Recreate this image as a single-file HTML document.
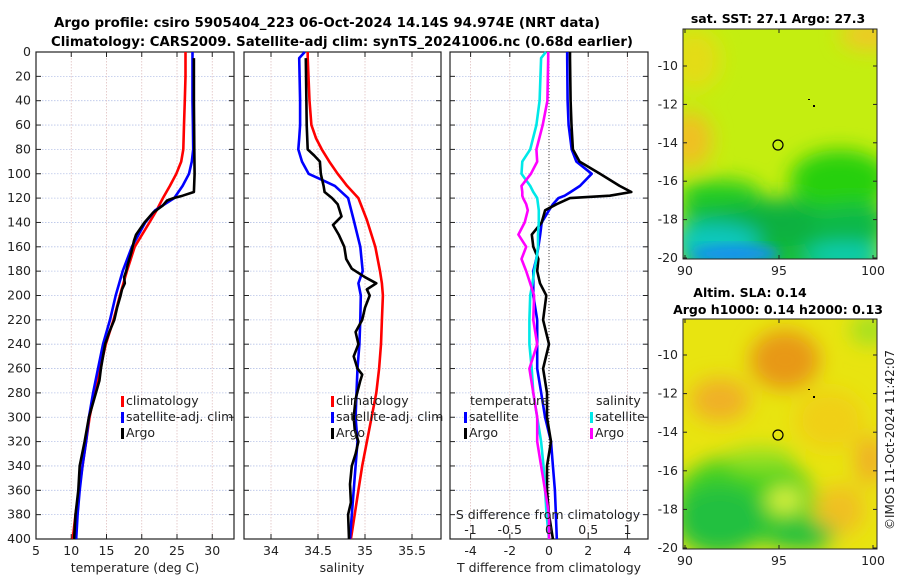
<!DOCTYPE html>
<html><head><meta charset="utf-8">
<style>
html,body{margin:0;padding:0;background:#fff;}
svg{display:block;font-family:"DejaVu Sans","Liberation Sans",sans-serif;}
</style></head>
<body>
<svg id="fig" width="900" height="580" viewBox="0 0 900 580" xmlns="http://www.w3.org/2000/svg">
<defs>
<filter id="blur6" x="-20%" y="-20%" width="140%" height="140%"><feGaussianBlur stdDeviation="6"/></filter>
<filter id="blur10" x="-30%" y="-30%" width="160%" height="160%"><feGaussianBlur stdDeviation="10"/></filter>
<clipPath id="clipSst"><rect x="683" y="29" width="194" height="230"/></clipPath>
<clipPath id="clipSla"><rect x="683" y="319" width="194" height="230"/></clipPath>
</defs>
<text x="327" y="27" text-anchor="middle" font-size="13" font-weight="bold" textLength="546" lengthAdjust="spacingAndGlyphs">Argo profile: csiro 5905404_223 06-Oct-2024 14.14S 94.974E (NRT data)</text>
<text x="342" y="46" text-anchor="middle" font-size="13" font-weight="bold" textLength="582" lengthAdjust="spacingAndGlyphs">Climatology: CARS2009. Satellite-adj clim: synTS_20241006.nc (0.68d earlier)</text>

<!-- SST map -->
<g clip-path="url(#clipSst)">
  <rect x="683" y="29" width="194" height="230" fill="#c4ee10"/>
  <g filter="url(#blur10)">
    <ellipse cx="690" cy="140" rx="22" ry="28" fill="#f0c020"/>
    <ellipse cx="695" cy="60" rx="25" ry="30" fill="#e4dc18"/>
    <ellipse cx="870" cy="35" rx="30" ry="15" fill="#f0c828"/>
    <rect x="683" y="198" width="194" height="80" fill="#18c038"/>
    <ellipse cx="840" cy="180" rx="50" ry="30" fill="#28d010"/>
    <ellipse cx="720" cy="192" rx="40" ry="12" fill="#20cc20"/>
    <ellipse cx="770" cy="225" rx="70" ry="22" fill="#10b040"/>
    <ellipse cx="850" cy="225" rx="40" ry="20" fill="#10b848"/>
    <ellipse cx="715" cy="242" rx="45" ry="18" fill="#10c8c0"/>
    <ellipse cx="845" cy="255" rx="40" ry="10" fill="#10d0c0"/>
  </g>
  <ellipse cx="735" cy="254" rx="45" ry="9" fill="#1890f0" filter="url(#blur6)"/>
</g>
<rect x="683" y="29" width="194" height="230" fill="none" stroke="#222" stroke-width="1"/>
<text x="778" y="23" text-anchor="middle" font-size="12.5" font-weight="bold">sat. SST: 27.1 Argo: 27.3</text>
<circle cx="778" cy="145" r="5" fill="none" stroke="#000" stroke-width="1.2"/>
<rect x="808" y="99" width="2" height="1" fill="#000"/><rect x="813" y="105" width="2" height="2" fill="#000"/>

<!-- SLA map -->
<g clip-path="url(#clipSla)">
  <rect x="683" y="319" width="194" height="230" fill="#e8e410"/>
  <g filter="url(#blur10)">
    <ellipse cx="785" cy="360" rx="35" ry="30" fill="#e89818"/>
    <ellipse cx="720" cy="400" rx="30" ry="22" fill="#f0b028"/>
    <ellipse cx="830" cy="420" rx="35" ry="30" fill="#f0d018"/>
    <ellipse cx="870" cy="460" rx="15" ry="25" fill="#f0b028"/>
    <ellipse cx="840" cy="510" rx="25" ry="25" fill="#f0c020"/>
    <ellipse cx="870" cy="330" rx="20" ry="15" fill="#a0e020"/>
    <ellipse cx="745" cy="500" rx="70" ry="45" fill="#40d020"/>
    <ellipse cx="720" cy="520" rx="45" ry="35" fill="#20c040"/>
    <ellipse cx="800" cy="535" rx="35" ry="15" fill="#20c040"/>
    <ellipse cx="785" cy="500" rx="18" ry="14" fill="#d8f040"/>
    <ellipse cx="760" cy="460" rx="35" ry="12" fill="#90e020"/>
  </g>
</g>
<rect x="683" y="319" width="194" height="230" fill="none" stroke="#222" stroke-width="1"/>
<text x="750" y="297" text-anchor="middle" font-size="12.5" font-weight="bold">Altim. SLA: 0.14</text>
<text x="778" y="314" text-anchor="middle" font-size="12.5" font-weight="bold">Argo h1000: 0.14 h2000: 0.13</text>
<circle cx="778" cy="435" r="5" fill="none" stroke="#000" stroke-width="1.2"/>
<rect x="808" y="389" width="2" height="1" fill="#000"/><rect x="813" y="396" width="2" height="2" fill="#000"/>
<text transform="translate(894,440) rotate(-90)" text-anchor="middle" font-size="12" fill="#222">©IMOS 11-Oct-2024 11:42:07</text>
<g id="plots"></g>
</svg>
<script>
// ---- data (depth in m) ----
const depthsT = [0,20,40,60,80,90,100,110,120,130,140,160,180,200,220,240,260,280,300,320,340,360,380,400];
const tempClim = [26.2,26.2,26.1,26.0,25.9,25.6,24.9,24.0,23.0,22.1,21.1,19.0,17.9,16.9,16.0,14.9,14.1,13.3,12.6,12.1,11.6,11.1,10.6,10.2];
const tempSat  = [27.2,27.2,27.2,27.25,27.3,27.1,26.7,25.8,24.6,21.9,20.5,18.6,17.3,16.3,15.5,14.5,13.8,13.1,12.5,12.1,11.6,11.2,10.9,10.7];
const depthsArgoT = [5,40,80,100,115,118,120,122,126,132,140,150,155,165,175,180,185,190,195,200,210,220,230,240,250,260,270,280,290,300,320,340,350,360,370,380,390,400];
const tempArgo = [27.4,27.4,27.45,27.5,27.4,25.8,24.5,23.6,23.0,21.6,20.4,19.2,18.9,18.5,18.0,17.8,17.5,17.6,17.2,17.0,16.5,16.1,15.4,14.8,14.5,14.2,14.0,13.5,13.0,12.5,11.9,11.2,11.1,11.0,10.8,10.6,10.5,10.4];

const depthsS = [0,5,40,60,71,80,90,100,105,110,120,138,160,180,190,200,220,240,260,280,300,320,340,360,380,400];
const salClim = [34.39,34.39,34.41,34.43,34.48,34.54,34.62,34.71,34.76,34.81,34.93,35.02,35.11,35.16,35.18,35.19,35.18,35.17,35.15,35.12,35.07,35.02,34.97,34.93,34.89,34.85];
const salSat  = [34.36,34.30,34.31,34.31,34.30,34.29,34.33,34.40,34.54,34.68,34.82,34.88,34.95,34.975,34.93,34.955,34.95,34.94,34.92,34.91,34.90,34.92,34.90,34.88,34.86,34.84];
const depthsArgoS = [5,60,80,85,90,100,110,115,120,125,130,135,142,150,160,170,178,185,190,195,200,210,220,230,240,250,260,265,270,285,300,310,320,330,340,355,370,380,400];
const salArgo = [34.37,34.38,34.39,34.46,34.52,34.53,34.56,34.57,34.65,34.71,34.73,34.75,34.66,34.72,34.78,34.80,34.86,35.0,35.12,35.02,35.05,35.0,34.97,34.90,34.93,34.88,34.92,34.97,34.95,34.90,34.88,34.89,34.93,34.90,34.86,34.84,34.85,34.82,34.83];

const depthsD = [0,5,40,60,80,90,100,110,115,118,120,125,130,140,150,160,170,180,190,200,220,240,260,280,300,320,340,360,380,400];
const tDiffSat  = [0.93,0.93,0.95,1.0,1.16,1.4,2.18,1.58,1.1,0.8,0.48,0.2,0.0,-0.37,-0.45,-0.54,-0.65,-0.8,-0.8,-0.8,-0.6,-0.6,-0.6,-0.4,-0.2,0.1,0.2,0.3,0.35,0.4];
const tDiffArgo = [1.07,1.07,1.1,1.15,1.22,1.56,2.6,3.6,4.2,3.1,1.07,0.39,-0.2,-0.37,-0.88,-0.8,-0.54,-0.6,-0.46,-0.14,-0.3,0.0,-0.3,-0.1,-0.1,0.1,-0.1,-0.1,0.0,0.2];
const sDiffSat  = [-0.04,-0.1,-0.12,-0.16,-0.24,-0.34,-0.35,-0.24,-0.2,-0.17,-0.15,-0.14,-0.13,-0.13,-0.14,-0.14,-0.16,-0.19,-0.21,-0.24,-0.25,-0.25,-0.22,-0.2,-0.15,-0.1,-0.07,-0.05,-0.03,0.0];
const sDiffArgo = [-0.01,-0.01,-0.02,-0.08,-0.16,-0.15,-0.23,-0.35,-0.34,-0.34,-0.33,-0.29,-0.27,-0.31,-0.39,-0.29,-0.35,-0.29,-0.24,-0.19,-0.2,-0.15,-0.25,-0.2,-0.15,-0.15,-0.1,-0.05,0.0,0.0];

const depthTicks = [0,20,40,60,80,100,120,140,160,180,200,220,240,260,280,300,320,340,360,380,400];
const tempTicks = [5,10,15,20,25,30];
const salTicks = [34,34.5,35,35.5];
const salTickLabels = ['34','34.5','35','35.5'];
const tDiffTicks = [-4,-2,0,2,4];
const sDiffTicks = [-1,-0.5,0,0.5,1];
const sDiffTickLabels = ['-1','-0.5','0','0.5','1'];

// ---- scales ----
const Y0 = 52, Y1 = 539;
const yD = d => Y0 + d*(Y1-Y0)/400;
const xT = t => 36 + (t-5)*7.05;
const xS = s => 365 + (s-35)*94;
const xTD = v => 549 + v*19.6;
const xSD = v => 549 + v*78.5;

const NS = 'http://www.w3.org/2000/svg';
const root = document.getElementById('plots');
function mk(tag, attrs, parent){
  const e = document.createElementNS(NS, tag);
  for (const k in attrs) e.setAttribute(k, attrs[k]);
  (parent||root).appendChild(e);
  return e;
}
function line(xs, ds, fx, color, name, w){
  const pts = xs.map((v,i)=> fx(v).toFixed(1)+','+yD(ds[i]).toFixed(1)).join(' ');
  const p = mk('polyline', {points:pts, fill:'none', stroke:color, 'stroke-width':w||2.6, 'stroke-linejoin':'round'});
  
  
  return p;
}
function panel(x0, x1, xticks, fx, name){
  const g = mk('g', {});
  
  
  depthTicks.forEach(d=>{
    mk('line',{x1:x0,x2:x1,y1:yD(d),y2:yD(d),stroke:'#b8c4e8','stroke-width':0.8,'stroke-dasharray':'1.5,1.5'},g);
    mk('line',{x1:x0,x2:x0+5,y1:yD(d),y2:yD(d),stroke:'#222','stroke-width':1},g);
    mk('line',{x1:x1-5,x2:x1,y1:yD(d),y2:yD(d),stroke:'#222','stroke-width':1},g);
  });
  xticks.forEach(t=>{
    const x = fx(t);
    mk('line',{x1:x,x2:x,y1:Y0,y2:Y1,stroke:'#e0c0c0','stroke-width':0.8,'stroke-dasharray':'1.5,1.5'},g);
    mk('line',{x1:x,x2:x,y1:Y0,y2:Y0+5,stroke:'#222','stroke-width':1},g);
    mk('line',{x1:x,x2:x,y1:Y1-5,y2:Y1,stroke:'#222','stroke-width':1},g);
  });
  mk('rect',{x:x0,y:Y0,width:x1-x0,height:Y1-Y0,fill:'none',stroke:'#222','stroke-width':1.2},g);
  return g;
}
function txt(x,y,s,name,opts){
  const t = mk('text', Object.assign({x:x,y:y,'font-size':12.5,fill:'#222'}, opts||{}));
  t.textContent = s;
  
  
  return t;
}

// panel 1 temperature
panel(36,234,tempTicks,xT,'temperature-panel');
depthTicks.forEach(d=> txt(31, yD(d)+4, String(d), 'depth-tick-label', {'text-anchor':'end'}));
tempTicks.forEach(t=> txt(xT(t), 555, String(t), 'temp-tick-label', {'text-anchor':'middle'}));
txt(135, 572, 'temperature (deg C)', 'temp-axis-title', {'text-anchor':'middle'});
line(tempClim, depthsT, xT, '#ff0000', 'temp-climatology-line');
line(tempSat, depthsT, xT, '#0000ff', 'temp-satellite-line');
line(tempArgo, depthsArgoT, xT, '#000000', 'temp-argo-line');

// panel 2 salinity
panel(244,441,salTicks,xS,'salinity-panel');
salTicks.forEach((s,i)=> txt(xS(s), 555, salTickLabels[i], 'sal-tick-label', {'text-anchor':'middle'}));
txt(342, 572, 'salinity', 'sal-axis-title', {'text-anchor':'middle'});
line(salClim, depthsS, xS, '#ff0000', 'sal-climatology-line');
line(salSat, depthsS, xS, '#0000ff', 'sal-satellite-line');
line(salArgo, depthsArgoS, xS, '#000000', 'sal-argo-line');

// panel 3 differences
panel(450,648,tDiffTicks,xTD,'difference-panel');
const zl = mk('line',{x1:549,x2:549,y1:Y0,y2:Y1,stroke:'#444','stroke-width':1,'stroke-dasharray':'1,2'});


tDiffTicks.forEach(t=> txt(xTD(t), 555, String(t), 'tdiff-tick-label', {'text-anchor':'middle'}));
txt(549, 572, 'T difference from climatology', 'tdiff-axis-title', {'text-anchor':'middle'});
line(tDiffSat, depthsD, xTD, '#0000ff', 'tdiff-satellite-line');
line(tDiffArgo, depthsD, xTD, '#000000', 'tdiff-argo-line');
line(sDiffSat, depthsD, xSD, '#00e8e8', 'sdiff-satellite-line');
line(sDiffArgo, depthsD, xSD, '#ff00ff', 'sdiff-argo-line');
txt(548, 519, 'S difference from climatology', 'sdiff-axis-title', {'text-anchor':'middle'});
sDiffTicks.forEach((s,i)=> txt(xSD(s), 534, sDiffTickLabels[i], 'sdiff-tick-label', {'text-anchor':'middle'}));

// legends
function legItem(x,y,color,label,name){
  const r = mk('rect',{x:x,y:y-9,width:3,height:11,fill:color});
  
  
  txt(x+5, y, label, name);
}
legItem(121,405,'#ff0000','climatology','legend-climatology');
legItem(121,421,'#0000ff','satellite-adj. clim','legend-satellite-adj');
legItem(121,437,'#000000','Argo','legend-argo');
legItem(331,405,'#ff0000','climatology','legend2-climatology');
legItem(331,421,'#0000ff','satellite-adj. clim','legend2-satellite-adj');
legItem(331,437,'#000000','Argo','legend2-argo');
txt(470,405,'temperature','legend-temperature-header');
txt(596,405,'salinity','legend-salinity-header');
legItem(464,421,'#0000ff','satellite','legend-t-satellite');
legItem(464,437,'#000000','Argo','legend-t-argo');
legItem(590,421,'#00e8e8','satellite','legend-s-satellite');
legItem(590,437,'#ff00ff','Argo','legend-s-argo');

// map axes
const lonTicks = [90,95,100];
const latTicks = [-10,-12,-14,-16,-18,-20];
const xLon = l => 685 + (l-90)*18.8;
function mapAxes(top, labelY, yOfLat, name){
  lonTicks.forEach(l=>{
    txt(xLon(l), labelY, String(l), name+'-lon-label', {'text-anchor':'middle'});
    mk('line',{x1:xLon(l),x2:xLon(l),y1:top,y2:top+4,stroke:'#222'});
    mk('line',{x1:xLon(l),x2:xLon(l),y1:top+230,y2:top+226,stroke:'#222'});
  });
  latTicks.forEach(la=>{
    const y = yOfLat(la);
    txt(678, y+4, String(la), name+'-lat-label', {'text-anchor':'end'});
    mk('line',{x1:683,x2:687,y1:y,y2:y,stroke:'#222'});
    mk('line',{x1:873,x2:877,y1:y,y2:y,stroke:'#222'});
  });
}
mapAxes(29, 275, la => 66 + (-10-la)*19.2, 'sst-map');
mapAxes(319, 565, la => 355 + (-10-la)*19.3, 'sla-map');
</script>
</body></html>
